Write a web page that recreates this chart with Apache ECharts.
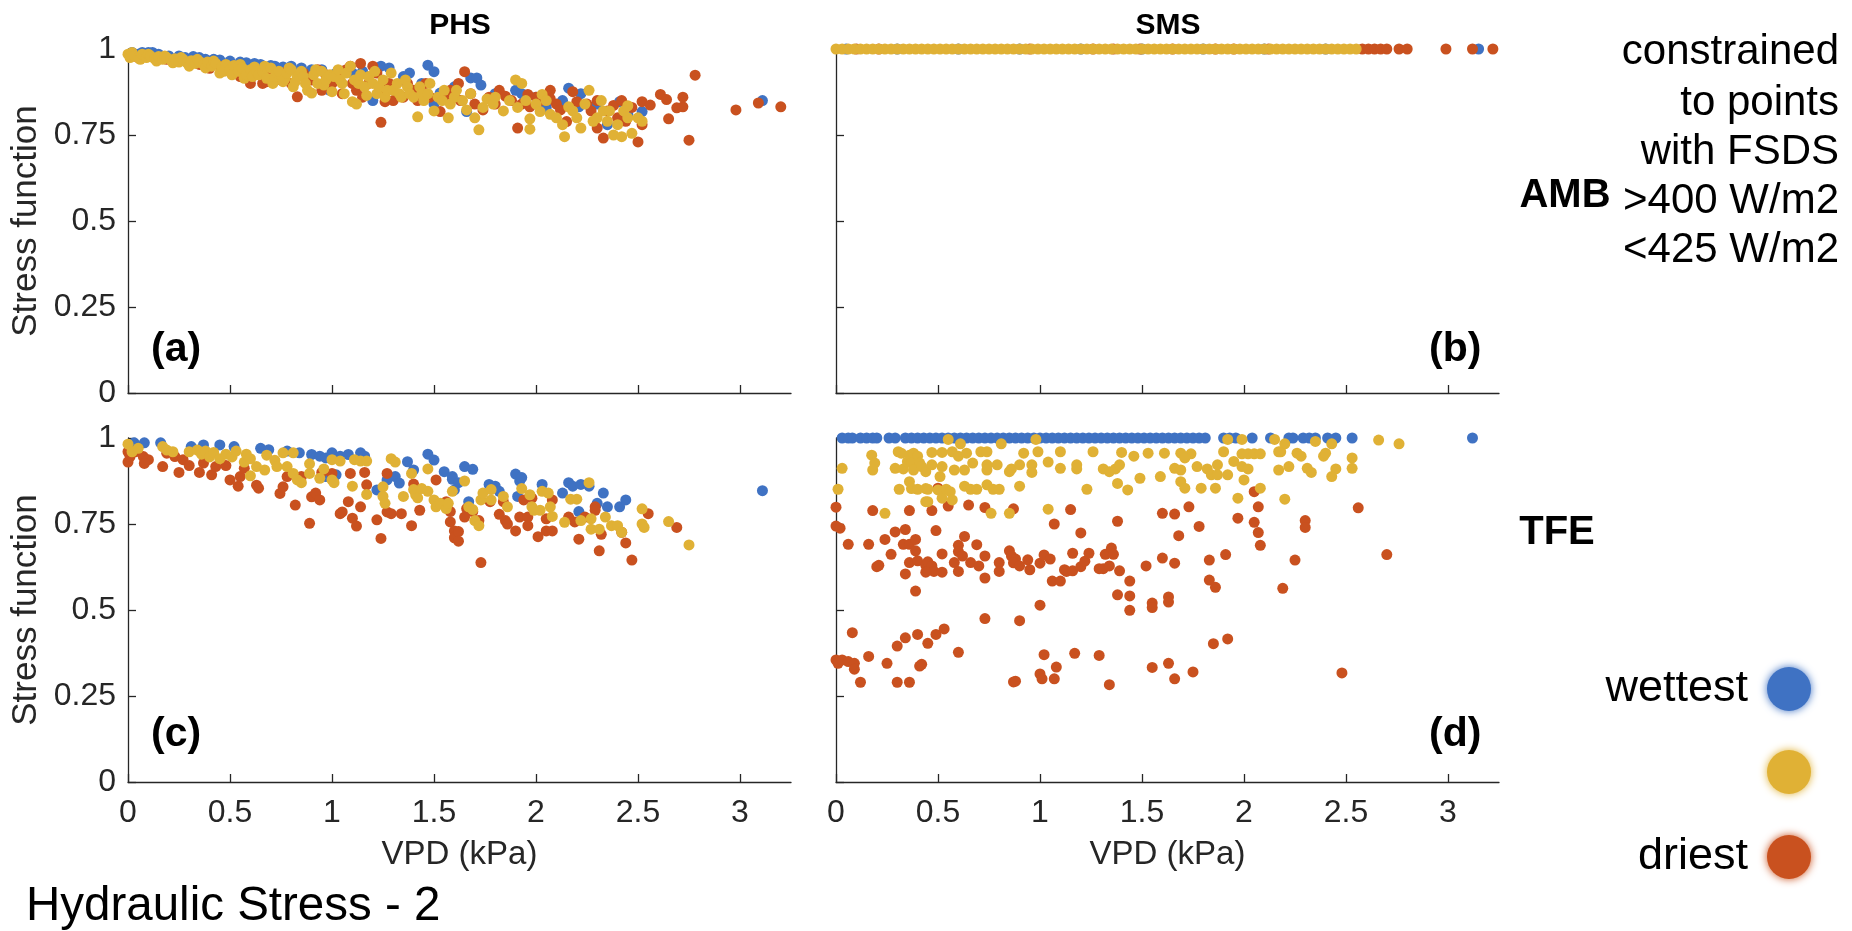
<!DOCTYPE html>
<html>
<head>
<meta charset="utf-8">
<script src="https://cdn.jsdelivr.net/npm/echarts@6/dist/echarts.min.js"></script>
<style>
html,body{margin:0;padding:0;background:#fff;}
#chart{width:1852px;height:931px;}
</style>
</head>
<body>
<div id="chart"></div>
<script>
// ---------- tick labels / categories ----------
const xTickValues = [0, 0.5, 1, 1.5, 2, 2.5, 3];
const yTickValues = [0, 0.25, 0.5, 0.75, 1];
const panelTitles = ['PHS', 'SMS'];
const rowTitles = ['AMB', 'TFE'];
const panelLetters = ['(a)', '(b)', '(c)', '(d)'];
const noteLines = ['constrained', 'to points', 'with FSDS', '>400 W/m2', '<425 W/m2'];
const legendNames = ['wettest', '', 'driest'];

// ---------- (a) PHS, AMB : [VPD, stress] ----------
const phsAmbWet = [[0.02,0.99],[0.05,0.985],[0.07,0.99],[0.1,0.99],[0.12,0.99],[0.15,0.985],[0.2,0.98],[0.25,0.98],[0.28,0.975],[0.32,0.978],[0.35,0.975],[0.38,0.97],[0.42,0.97],[0.45,0.968],[0.5,0.965],[0.55,0.962],[0.58,0.96],[0.62,0.958],[0.65,0.955],[0.7,0.952],[0.72,0.95],[0.76,0.948],[0.8,0.95],[0.85,0.945],[0.9,0.94],[0.95,0.94],[0.99,0.88],[1.02,0.93],[1.05,0.935],[1.1,0.93],[1.15,0.935],[1.2,0.85],[1.24,0.95],[1.28,0.945],[1.35,0.92],[1.38,0.93],[1.44,0.9],[1.47,0.953],[1.5,0.934],[1.5,0.84],[1.53,0.872],[1.6,0.89],[1.66,0.818],[1.68,0.916],[1.71,0.916],[1.73,0.895],[1.8,0.87],[1.9,0.88],[1.93,0.87],[2.0,0.86],[2.05,0.83],[2.13,0.85],[2.16,0.886],[2.21,0.832],[2.22,0.87],[2.3,0.84],[2.35,0.78],[2.41,0.847],[2.45,0.81],[2.52,0.818],[3.11,0.85]];
const phsAmbDry = [[0.02,0.98],[0.05,0.975],[0.1,0.98],[0.15,0.975],[0.19,0.97],[0.25,0.965],[0.3,0.96],[0.35,0.955],[0.4,0.944],[0.45,0.95],[0.5,0.94],[0.55,0.92],[0.58,0.93],[0.6,0.9],[0.62,0.93],[0.66,0.9],[0.68,0.905],[0.7,0.93],[0.72,0.92],[0.75,0.91],[0.78,0.935],[0.8,0.9],[0.83,0.861],[0.86,0.93],[0.88,0.915],[0.9,0.91],[0.93,0.94],[0.95,0.88],[0.97,0.925],[1.0,0.9],[1.03,0.92],[1.05,0.87],[1.07,0.94],[1.09,0.95],[1.1,0.9],[1.12,0.88],[1.13,0.89],[1.14,0.958],[1.15,0.86],[1.18,0.9],[1.2,0.95],[1.22,0.93],[1.24,0.787],[1.25,0.88],[1.26,0.847],[1.28,0.9],[1.3,0.85],[1.32,0.87],[1.35,0.86],[1.37,0.9],[1.4,0.88],[1.42,0.85],[1.44,0.87],[1.46,0.9],[1.48,0.86],[1.53,0.818],[1.55,0.86],[1.58,0.88],[1.6,0.86],[1.62,0.9],[1.63,0.85],[1.65,0.934],[1.68,0.87],[1.7,0.84],[1.74,0.823],[1.77,0.86],[1.8,0.84],[1.82,0.88],[1.85,0.863],[1.88,0.85],[1.91,0.77],[1.93,0.84],[1.96,0.868],[1.97,0.832],[2.0,0.86],[2.02,0.85],[2.07,0.88],[2.07,0.855],[2.1,0.84],[2.12,0.823],[2.15,0.789],[2.18,0.876],[2.2,0.847],[2.25,0.84],[2.27,0.82],[2.3,0.85],[2.3,0.77],[2.33,0.741],[2.35,0.82],[2.38,0.836],[2.4,0.8],[2.42,0.85],[2.44,0.79],[2.47,0.83],[2.5,0.73],[2.52,0.847],[2.52,0.78],[2.56,0.837],[2.61,0.868],[2.64,0.853],[2.65,0.797],[2.69,0.829],[2.72,0.832],[2.72,0.86],[2.75,0.735],[2.78,0.924],[2.98,0.823],[3.09,0.843],[3.2,0.832]];
const phsAmbMid = [[0,0.985],[0.01,0.975],[0.02,0.99],[0.03,0.98],[0.05,0.975],[0.06,0.97],[0.07,0.985],[0.09,0.975],[0.1,0.985],[0.11,0.98],[0.13,0.972],[0.14,0.965],[0.15,0.978],[0.17,0.97],[0.18,0.98],[0.19,0.975],[0.21,0.968],[0.22,0.96],[0.23,0.972],[0.25,0.962],[0.26,0.975],[0.27,0.97],[0.29,0.96],[0.3,0.95],[0.31,0.966],[0.33,0.958],[0.34,0.97],[0.35,0.964],[0.37,0.955],[0.38,0.945],[0.39,0.962],[0.41,0.95],[0.42,0.965],[0.43,0.958],[0.45,0.93],[0.46,0.948],[0.47,0.935],[0.48,0.955],[0.5,0.94],[0.51,0.925],[0.52,0.952],[0.54,0.935],[0.55,0.955],[0.56,0.945],[0.57,0.915],[0.58,0.925],[0.6,0.94],[0.61,0.92],[0.62,0.948],[0.63,0.935],[0.64,0.925],[0.66,0.935],[0.67,0.95],[0.68,0.915],[0.7,0.945],[0.71,0.9],[0.72,0.92],[0.73,0.93],[0.74,0.935],[0.76,0.905],[0.77,0.915],[0.78,0.93],[0.79,0.945],[0.8,0.94],[0.81,0.89],[0.82,0.905],[0.83,0.92],[0.85,0.935],[0.86,0.92],[0.87,0.9],[0.88,0.88],[0.9,0.872],[0.91,0.925],[0.92,0.94],[0.93,0.9],[0.95,0.935],[0.96,0.895],[0.97,0.91],[0.99,0.925],[1.0,0.876],[1.01,0.92],[1.03,0.94],[1.04,0.91],[1.05,0.9],[1.06,0.87],[1.07,0.93],[1.09,0.95],[1.1,0.847],[1.11,0.91],[1.12,0.84],[1.13,0.9],[1.14,0.925],[1.16,0.89],[1.17,0.865],[1.18,0.92],[1.2,0.9],[1.21,0.935],[1.22,0.87],[1.23,0.89],[1.25,0.91],[1.26,0.86],[1.27,0.88],[1.29,0.93],[1.3,0.88],[1.32,0.9],[1.33,0.87],[1.34,0.86],[1.36,0.91],[1.37,0.89],[1.38,0.87],[1.4,0.86],[1.42,0.803],[1.43,0.89],[1.44,0.87],[1.45,0.85],[1.47,0.87],[1.48,0.9],[1.5,0.82],[1.52,0.86],[1.54,0.85],[1.55,0.88],[1.57,0.8],[1.58,0.84],[1.6,0.86],[1.61,0.88],[1.64,0.85],[1.66,0.823],[1.68,0.87],[1.7,0.8],[1.72,0.765],[1.74,0.83],[1.76,0.855],[1.79,0.84],[1.8,0.86],[1.84,0.82],[1.87,0.85],[1.9,0.91],[1.91,0.83],[1.93,0.9],[1.95,0.85],[1.97,0.797],[1.97,0.767],[2.0,0.84],[2.03,0.868],[2.02,0.818],[2.05,0.85],[2.07,0.81],[2.1,0.8],[2.13,0.78],[2.14,0.745],[2.16,0.832],[2.18,0.82],[2.2,0.8],[2.22,0.77],[2.24,0.84],[2.26,0.88],[2.28,0.79],[2.3,0.8],[2.32,0.85],[2.33,0.82],[2.35,0.79],[2.36,0.82],[2.38,0.75],[2.4,0.78],[2.43,0.82],[2.45,0.835],[2.42,0.745],[2.45,0.8],[2.47,0.755],[2.52,0.79],[2.5,0.8]];

// ---------- (b) SMS, AMB : all at stress 1, VPD values ----------
const smsAmbStress = 1;
const smsAmbWetVpd = [0.05,0.3,0.6,0.9,1.2,1.5,1.8,2.1,2.4,3.15];
const smsAmbDryVpd = [0.1,0.21,0.95,1.26,1.36,1.49,1.65,1.86,1.95,2.12,2.58,2.61,2.64,2.67,2.7,2.76,2.8,2.99,3.12,3.22];
const smsAmbMidVpd = [0,0.03,0.06,0.09,0.12,0.15,0.18,0.21,0.24,0.27,0.3,0.33,0.36,0.39,0.42,0.45,0.48,0.51,0.54,0.57,0.6,0.63,0.66,0.69,0.72,0.75,0.78,0.81,0.84,0.87,0.9,0.93,0.96,0.99,1.02,1.05,1.08,1.11,1.14,1.17,1.2,1.23,1.26,1.29,1.32,1.35,1.38,1.41,1.44,1.47,1.5,1.53,1.56,1.59,1.62,1.65,1.68,1.71,1.74,1.77,1.8,1.83,1.86,1.89,1.92,1.95,1.98,2.01,2.04,2.07,2.1,2.13,2.16,2.19,2.22,2.25,2.28,2.31,2.34,2.37,2.4,2.43,2.46,2.49,2.52,2.55];

// ---------- (c) PHS, TFE ----------
const phsTfeWet = [[0.03,0.986],[0.08,0.986],[0.16,0.986],[0.31,0.975],[0.37,0.98],[0.45,0.98],[0.52,0.975],[0.65,0.97],[0.69,0.966],[0.78,0.962],[0.84,0.957],[0.9,0.952],[0.94,0.947],[0.97,0.942],[1.0,0.957],[1.04,0.947],[1.08,0.952],[1.14,0.957],[1.16,0.947],[0.97,0.888],[1.02,0.893],[1.22,0.849],[1.27,0.878],[1.31,0.888],[1.33,0.869],[1.37,0.931],[1.4,0.907],[1.47,0.953],[1.5,0.936],[1.55,0.902],[1.59,0.888],[1.6,0.849],[1.65,0.917],[1.69,0.909],[1.59,0.88],[1.62,0.87],[1.67,0.815],[1.77,0.865],[1.8,0.86],[1.82,0.845],[1.9,0.895],[1.92,0.875],[1.93,0.885],[1.91,0.83],[2.03,0.865],[2.13,0.84],[2.16,0.87],[2.18,0.86],[2.22,0.865],[2.26,0.86],[2.21,0.786],[2.33,0.84],[2.35,0.8],[2.3,0.81],[2.41,0.8],[2.44,0.82],[3.11,0.847]];
const phsTfeDry = [[0,0.96],[0,0.93],[0.01,0.946],[0.035,0.96],[0.075,0.946],[0.1,0.937],[0.08,0.926],[0.17,0.917],[0.19,0.956],[0.23,0.946],[0.25,0.9],[0.27,0.937],[0.3,0.92],[0.35,0.9],[0.37,0.927],[0.41,0.893],[0.43,0.917],[0.48,0.92],[0.5,0.878],[0.54,0.86],[0.55,0.888],[0.57,0.912],[0.63,0.863],[0.64,0.854],[0.745,0.839],[0.76,0.858],[0.78,0.888],[0.82,0.805],[0.85,0.888],[0.89,0.752],[0.9,0.829],[0.92,0.84],[0.94,0.82],[0.95,0.9],[1.0,0.897],[1.04,0.78],[1.05,0.785],[1.09,0.897],[1.08,0.815],[1.1,0.767],[1.12,0.744],[1.14,0.8],[1.16,0.9],[1.17,0.864],[1.22,0.762],[1.24,0.708],[1.27,0.897],[1.27,0.785],[1.29,0.78],[1.34,0.78],[1.39,0.745],[1.4,0.866],[1.43,0.79],[1.51,0.878],[1.56,0.815],[1.58,0.756],[1.6,0.73],[1.6,0.71],[1.58,0.786],[1.62,0.728],[1.62,0.7],[1.66,0.795],[1.69,0.786],[1.65,0.77],[1.73,0.638],[1.72,0.76],[1.775,0.815],[1.82,0.778],[1.85,0.76],[1.86,0.75],[1.84,0.815],[1.9,0.73],[1.92,0.77],[1.96,0.77],[1.96,0.745],[1.94,0.82],[1.98,0.825],[2.01,0.713],[2.05,0.765],[2.05,0.73],[2.08,0.73],[2.08,0.82],[2.16,0.77],[2.19,0.756],[2.21,0.706],[2.24,0.77],[2.29,0.8],[2.29,0.79],[2.31,0.672],[2.32,0.72],[2.42,0.726],[2.44,0.695],[2.47,0.645],[2.55,0.78],[2.69,0.74]];
const phsTfeMid = [[0,0.982],[0.02,0.96],[0.05,0.97],[0.17,0.975],[0.19,0.965],[0.22,0.96],[0.3,0.96],[0.34,0.965],[0.36,0.953],[0.38,0.962],[0.4,0.945],[0.42,0.958],[0.45,0.94],[0.48,0.953],[0.51,0.945],[0.53,0.962],[0.57,0.93],[0.58,0.953],[0.6,0.94],[0.6,0.89],[0.63,0.917],[0.67,0.907],[0.68,0.95],[0.72,0.935],[0.73,0.917],[0.76,0.957],[0.78,0.917],[0.81,0.957],[0.81,0.897],[0.83,0.878],[0.85,0.87],[0.89,0.897],[0.89,0.925],[0.94,0.883],[0.96,0.91],[1.0,0.878],[1.01,0.87],[1.0,0.937],[1.04,0.933],[1.1,0.86],[1.11,0.937],[1.14,0.933],[1.17,0.836],[1.17,0.933],[1.25,0.858],[1.25,0.83],[1.26,0.81],[1.29,0.94],[1.31,0.93],[1.35,0.83],[1.39,0.897],[1.4,0.85],[1.41,0.835],[1.42,0.826],[1.44,0.853],[1.47,0.91],[1.47,0.845],[1.5,0.82],[1.51,0.8],[1.53,0.81],[1.56,0.795],[1.57,0.81],[1.59,0.845],[1.65,0.875],[1.67,0.8],[1.69,0.792],[1.7,0.76],[1.72,0.745],[1.73,0.82],[1.74,0.84],[1.78,0.85],[1.78,0.82],[1.84,0.83],[1.86,0.8],[1.93,0.853],[1.97,0.835],[1.98,0.8],[1.99,0.79],[2.02,0.79],[2.03,0.845],[2.06,0.84],[2.07,0.8],[2.08,0.772],[2.14,0.755],[2.17,0.822],[2.2,0.822],[2.22,0.76],[2.26,0.87],[2.27,0.765],[2.27,0.735],[2.31,0.735],[2.34,0.77],[2.37,0.745],[2.4,0.745],[2.42,0.726],[2.52,0.794],[2.52,0.75],[2.53,0.74],[2.65,0.757],[2.75,0.689]];

// ---------- (d) SMS, TFE ----------
const smsTfeWetStress = 1;
const smsTfeWetVpd = [0.03,0.06,0.08,0.12,0.15,0.18,0.2,0.26,0.29,0.34,0.37,0.4,0.43,0.46,0.49,0.52,0.55,0.58,0.61,0.64,0.67,0.7,0.73,0.76,0.79,0.82,0.85,0.88,0.91,0.94,0.97,1.0,1.03,1.06,1.09,1.12,1.15,1.18,1.21,1.24,1.27,1.3,1.33,1.36,1.39,1.42,1.45,1.48,1.51,1.54,1.57,1.6,1.63,1.66,1.69,1.72,1.75,1.78,1.81,1.9,1.93,1.96,2.04,2.13,2.22,2.24,2.29,2.32,2.35,2.41,2.45,2.53,3.12];
const smsTfeMid = [[0.55,0.996],[0.98,0.996],[0.61,0.983],[0.81,0.983],[0.175,0.95],[0.19,0.927],[0.18,0.907],[0.03,0.912],[0.01,0.851],[0.305,0.96],[0.32,0.956],[0.29,0.912],[0.33,0.91],[0.31,0.851],[0.36,0.95],[0.38,0.956],[0.4,0.947],[0.35,0.931],[0.37,0.927],[0.41,0.927],[0.38,0.907],[0.42,0.917],[0.44,0.902],[0.36,0.873],[0.37,0.853],[0.4,0.851],[0.44,0.853],[0.44,0.815],[0.45,0.815],[0.45,0.851],[0.24,0.781],[0.47,0.958],[0.52,0.958],[0.57,0.96],[0.6,0.947],[0.64,0.956],[0.47,0.922],[0.52,0.917],[0.51,0.888],[0.58,0.907],[0.63,0.907],[0.67,0.927],[0.5,0.849],[0.52,0.825],[0.54,0.851],[0.56,0.844],[0.57,0.82],[0.63,0.86],[0.66,0.851],[0.69,0.851],[0.71,0.96],[0.74,0.96],[0.74,0.922],[0.74,0.907],[0.79,0.922],[0.74,0.864],[0.77,0.851],[0.8,0.851],[0.76,0.781],[0.85,0.781],[0.85,0.902],[0.86,0.91],[0.9,0.922],[0.92,0.956],[0.9,0.86],[0.96,0.922],[0.96,0.9],[0.99,0.96],[1.04,0.93],[1.04,0.793],[1.1,0.96],[1.1,0.912],[1.18,0.922],[1.18,0.91],[1.23,0.851],[1.26,0.96],[1.31,0.91],[1.34,0.902],[1.37,0.91],[1.39,0.922],[1.4,0.958],[1.38,0.868],[1.43,0.849],[1.46,0.947],[1.49,0.883],[1.53,0.956],[1.92,0.996],[1.99,0.996],[2.15,0.996],[2.35,0.99],[2.43,0.983],[2.2,0.983],[2.18,0.96],[2.66,0.994],[2.76,0.983],[1.61,0.956],[1.69,0.956],[1.74,0.954],[1.71,0.942],[1.66,0.912],[1.69,0.907],[1.59,0.888],[1.69,0.873],[1.71,0.854],[1.77,0.917],[1.82,0.91],[1.84,0.893],[1.87,0.922],[1.87,0.893],[1.79,0.854],[1.86,0.854],[1.9,0.96],[1.92,0.893],[1.95,0.932],[1.99,0.954],[2.02,0.954],[2.05,0.954],[2.08,0.954],[1.99,0.917],[2.02,0.91],[2.0,0.878],[1.97,0.825],[2.08,0.854],[2.17,0.96],[2.17,0.907],[2.22,0.917],[2.2,0.822],[2.26,0.956],[2.28,0.947],[2.31,0.912],[2.33,0.9],[2.39,0.947],[2.4,0.956],[2.45,0.91],[2.43,0.888],[2.53,0.942],[2.53,0.912]];
const smsTfeDry = [[0.5,0.854],[0,0.799],[0.18,0.789],[0.36,0.789],[0.47,0.789],[0.55,0.802],[0.65,0.805],[0.73,0.798],[0.87,0.794],[1.15,0.792],[0,0.744],[0.02,0.738],[0.06,0.691],[0.16,0.691],[0.24,0.705],[0.29,0.727],[0.34,0.734],[0.27,0.662],[0.33,0.691],[0.36,0.691],[0.39,0.705],[0.49,0.731],[0.39,0.672],[0.2,0.626],[0.21,0.63],[0.34,0.605],[0.36,0.638],[0.4,0.643],[0.44,0.63],[0.45,0.64],[0.47,0.628],[0.48,0.612],[0.52,0.663],[0.52,0.61],[0.44,0.61],[0.58,0.638],[0.6,0.688],[0.6,0.67],[0.62,0.657],[0.6,0.612],[0.63,0.714],[0.66,0.638],[0.69,0.69],[0.7,0.628],[0.73,0.657],[0.73,0.593],[0.8,0.638],[0.8,0.612],[0.85,0.672],[0.86,0.657],[0.88,0.648],[0.87,0.637],[0.9,0.628],[0.94,0.646],[0.95,0.617],[1.0,0.636],[1.02,0.66],[1.05,0.648],[1.06,0.584],[1.1,0.584],[1.12,0.617],[1.13,0.612],[1.16,0.614],[1.16,0.665],[1.2,0.724],[1.2,0.626],[1.22,0.642],[1.24,0.665],[1.29,0.62],[1.31,0.62],[1.32,0.662],[1.35,0.68],[1.36,0.662],[1.34,0.628],[1.39,0.614],[1.44,0.584],[1.44,0.541],[1.38,0.758],[1.52,0.628],[1.38,0.544],[1.44,0.499],[1.0,0.514],[0.73,0.475],[0.9,0.469],[0.39,0.555],[1.55,0.52],[1.55,0.507],[1.07,0.75],[0,0.355],[0.01,0.345],[0.03,0.355],[0.06,0.35],[0.09,0.345],[0.09,0.328],[0.08,0.434],[0.16,0.365],[0.12,0.29],[0.25,0.345],[0.3,0.395],[0.34,0.419],[0.4,0.429],[0.45,0.403],[0.49,0.429],[0.53,0.445],[0.41,0.337],[0.42,0.342],[0.3,0.29],[0.36,0.29],[0.6,0.377],[0.87,0.291],[0.88,0.293],[1.0,0.314],[1.01,0.3],[1.07,0.3],[1.08,0.334],[1.02,0.37],[1.17,0.374],[1.29,0.368],[1.34,0.283],[1.55,0.333],[2.05,0.844],[1.6,0.781],[1.66,0.779],[1.73,0.8],[2.07,0.8],[1.97,0.767],[1.78,0.743],[2.05,0.755],[2.07,0.725],[1.68,0.716],[2.56,0.797],[2.3,0.76],[2.3,0.74],[2.08,0.688],[1.6,0.651],[1.66,0.636],[1.83,0.645],[1.91,0.661],[2.25,0.645],[2.7,0.661],[1.83,0.587],[1.86,0.566],[2.19,0.563],[1.63,0.538],[1.63,0.523],[1.85,0.402],[1.92,0.416],[1.63,0.345],[1.66,0.3],[1.75,0.32],[2.48,0.317]];

// ---------- styling ----------
const COL_WET = '#3F72C3';
const COL_MID = '#E0B135';
const COL_DRY = '#C9511F';
const INK = '#262626';
const FONT = "'Liberation Sans', Arial, Helvetica, sans-serif";
const TICK_FS = 32;

const grids = [
  {left: 128, top: 49, width: 663, height: 344},
  {left: 836, top: 49, width: 663, height: 344},
  {left: 128, top: 438, width: 663, height: 344},
  {left: 836, top: 438, width: 663, height: 344}
];

function makeX(i) {
  const bottom = i >= 2;
  return {
    type: 'value', gridIndex: i, min: 0, max: 3.25, interval: 0.5,
    name: bottom ? 'VPD (kPa)' : '',
    nameLocation: 'middle', nameGap: 56,
    nameTextStyle: {fontSize: 33, color: INK, fontFamily: FONT},
    axisLine: {show: true, onZero: false, lineStyle: {color: INK, width: 1.3}},
    axisTick: {show: true, inside: true, length: 8, customValues: xTickValues, lineStyle: {color: INK, width: 1.3}},
    axisLabel: {show: bottom, customValues: xTickValues, fontSize: TICK_FS, color: INK, fontFamily: FONT, margin: 15},
    splitLine: {show: false}
  };
}
function makeY(i) {
  const left = (i % 2) === 0;
  return {
    type: 'value', gridIndex: i, min: 0, max: 1, interval: 0.25,
    name: left ? 'Stress function' : '',
    nameLocation: 'middle', nameGap: 84, nameRotate: 90,
    nameTextStyle: {fontSize: 35, color: INK, fontFamily: FONT},
    axisLine: {show: true, onZero: false, lineStyle: {color: INK, width: 1.3}},
    axisTick: {show: true, inside: true, length: 8, customValues: yTickValues, lineStyle: {color: INK, width: 1.3}},
    axisLabel: {show: left, customValues: yTickValues, fontSize: TICK_FS, color: INK, fontFamily: FONT, margin: 12},
    splitLine: {show: false}
  };
}
function sc(i, data, color) {
  return {
    type: 'scatter', xAxisIndex: i, yAxisIndex: i, data: data,
    symbol: 'circle', symbolSize: 11,
    itemStyle: {color: color, opacity: 1},
    emphasis: {disabled: true}, silent: true
  };
}
function txt(x, y, s, size, weight, align) {
  return {
    type: 'text', x: x, y: y, silent: true,
    style: {text: s, fontSize: size, fontWeight: weight || 'normal', fontFamily: FONT, fill: '#000',
            align: align || 'center', verticalAlign: 'middle',
            textAlign: align || 'center', textVerticalAlign: 'middle'}
  };
}
function dot(x, y, color) {
  return {
    type: 'circle', silent: true, shape: {cx: x, cy: y, r: 22},
    style: {fill: color, shadowBlur: 9, shadowColor: color}
  };
}

const graphics = [
  txt(460, 26, panelTitles[0], 30, 'bold'),
  txt(1168, 26, panelTitles[1], 30, 'bold'),
  txt(1565, 196, rowTitles[0], 40, 'bold'),
  txt(1557, 533, rowTitles[1], 40, 'bold'),
  txt(151, 350, panelLetters[0], 41, 'bold', 'left'),
  txt(1429, 350, panelLetters[1], 41, 'bold', 'left'),
  txt(151, 735, panelLetters[2], 41, 'bold', 'left'),
  txt(1429, 735, panelLetters[3], 41, 'bold', 'left'),
  txt(26, 907, 'Hydraulic Stress - 2', 47.5, 'normal', 'left'),
  txt(1748, 689, legendNames[0], 45, 'normal', 'right'),
  txt(1748, 857, legendNames[2], 45, 'normal', 'right'),
  dot(1789, 689, COL_WET),
  dot(1789, 772, COL_MID),
  dot(1789, 857, COL_DRY)
];
const noteY = [52, 103, 152, 201, 250];
noteLines.forEach((s, k) => graphics.push(txt(1839, noteY[k], s, 42, 'normal', 'right')));

const option = {
  animation: false,
  backgroundColor: '#ffffff',
  grid: grids,
  xAxis: [0,1,2,3].map(makeX),
  yAxis: [0,1,2,3].map(makeY),
  series: [
    sc(0, phsAmbWet, COL_WET), sc(0, phsAmbDry, COL_DRY), sc(0, phsAmbMid, COL_MID),
    sc(1, smsAmbWetVpd.map(v => [v, smsAmbStress]), COL_WET),
    sc(1, smsAmbDryVpd.map(v => [v, smsAmbStress]), COL_DRY),
    sc(1, smsAmbMidVpd.map(v => [v, smsAmbStress]), COL_MID),
    sc(2, phsTfeWet, COL_WET), sc(2, phsTfeDry, COL_DRY), sc(2, phsTfeMid, COL_MID),
    sc(3, smsTfeWetVpd.map(v => [v, smsTfeWetStress]), COL_WET),
    sc(3, smsTfeDry, COL_DRY), sc(3, smsTfeMid, COL_MID)
  ],
  graphic: {elements: graphics}
};

const chart = echarts.init(document.getElementById('chart'), null, {renderer: 'canvas'});
chart.setOption(option);
</script>
</body>
</html>
